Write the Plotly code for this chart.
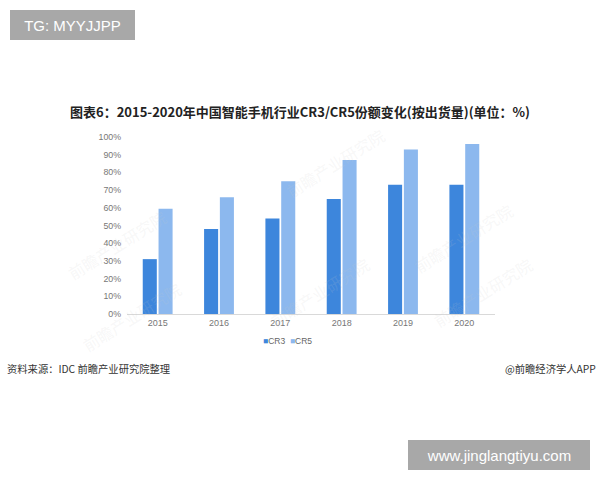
import plotly.graph_objects as go

years = ["2015", "2016", "2017", "2018", "2019", "2020"]
cr3 = [31, 48, 54, 65, 73, 73]
cr5 = [59.5, 66, 75, 87, 93, 96]
y_ticks = [0, 10, 20, 30, 40, 50, 60, 70, 80, 90, 100]
y_tick_labels = [f"{v}%" for v in y_ticks]
series_names = ["CR3", "CR5"]
series_colors = ["#3d86dc", "#8cb8ee"]

CJK = "Noto Sans CJK SC"

fig = go.Figure()
for name, vals, col in zip(series_names, [cr3, cr5], series_colors):
    fig.add_trace(go.Bar(x=years, y=vals, name=name, marker=dict(color=col, line=dict(width=0))))

fig.update_layout(
    width=600, height=480,
    paper_bgcolor="white", plot_bgcolor="white",
    margin=dict(l=127, r=105, t=137, b=166, pad=0),
    barmode="group", bargap=0.485, bargroupgap=0.11,
    showlegend=False,
    font=dict(family="Liberation Sans, Arial", color="#777"),
)
fig.update_xaxes(showgrid=False, showline=True, linecolor="#d9d9d9", linewidth=1,
                 ticks="", tickfont=dict(size=9, color="#777"), fixedrange=True)
fig.update_yaxes(range=[0, 100], tickvals=y_ticks, ticktext=y_tick_labels,
                 showgrid=False, zeroline=False, showline=False, ticks="",
                 tickfont=dict(size=8.8, color="#777"), ticklabelstandoff=5, fixedrange=True)

def px(x):
    return (x - 127) / 368

def py(y):
    return (314 - y) / 177

# Watermarks
for wx, wy in [(60, 245), (335, 120), (320, 335), (540, 335), (75, 360), (520, 195)]:
    fig.add_annotation(text="前瞻产业研究院", xref="paper", yref="paper",
                       x=px(wx), y=py(wy), showarrow=False, textangle=-32,
                       font=dict(family=CJK, size=16, color="rgba(200,200,200,0.15)"))

# Legend (compact, as in reference)
legend_text = "&nbsp;&nbsp;".join(
    f'<span style="color:{c}">■</span>{n}' for n, c in zip(series_names, series_colors))
fig.add_annotation(text=legend_text, xref="paper", yref="paper", x=px(287), y=py(342),
                   yshift=-6, showarrow=False,
                   font=dict(family="Liberation Sans, Arial", size=8.5, color="#666"))

# Title
fig.add_annotation(text="<b>图表6：2015-2020年中国智能手机行业CR3/CR5份额变化(按出货量)(单位：%)</b>",
                   xref="paper", yref="paper", x=px(300), y=py(111), xanchor="center", yanchor="middle",
                   showarrow=False, font=dict(family=CJK, size=13, color="#222"))
# Source & credit
fig.add_annotation(text="资料来源：IDC 前瞻产业研究院整理", xref="paper", yref="paper",
                   x=px(5), y=py(368), xanchor="left", yanchor="middle",
                   showarrow=False, font=dict(family=CJK, size=10.3, color="#333"))
fig.add_annotation(text="@前瞻经济学人APP", xref="paper", yref="paper",
                   x=px(598), y=py(368), xanchor="right", yanchor="middle",
                   showarrow=False, font=dict(family=CJK, size=10.3, color="#333"))

# Grey overlay labels
fig.add_annotation(text="TG: MYYJJPP", xref="paper", yref="paper",
                   x=px(10), y=py(10), xanchor="left", yanchor="top", showarrow=False,
                   width=125, height=30, align="center", valign="middle",
                   bgcolor="#a8a8a8", borderpad=0, borderwidth=0,
                   font=dict(family="Liberation Sans, Arial", size=15, color="white"))
fig.add_annotation(text="www.jinglangtiyu.com", xref="paper", yref="paper",
                   x=px(408), y=py(440), xanchor="left", yanchor="top", showarrow=False,
                   width=182, height=30, align="center", valign="middle",
                   bgcolor="#a8a8a8", borderpad=0, borderwidth=0,
                   font=dict(family="Liberation Sans, Arial", size=15, color="white"))

fig.write_html("out.html", config={"displayModeBar": False},
               post_script="document.body.style.margin='0';document.body.style.overflow='hidden';")
